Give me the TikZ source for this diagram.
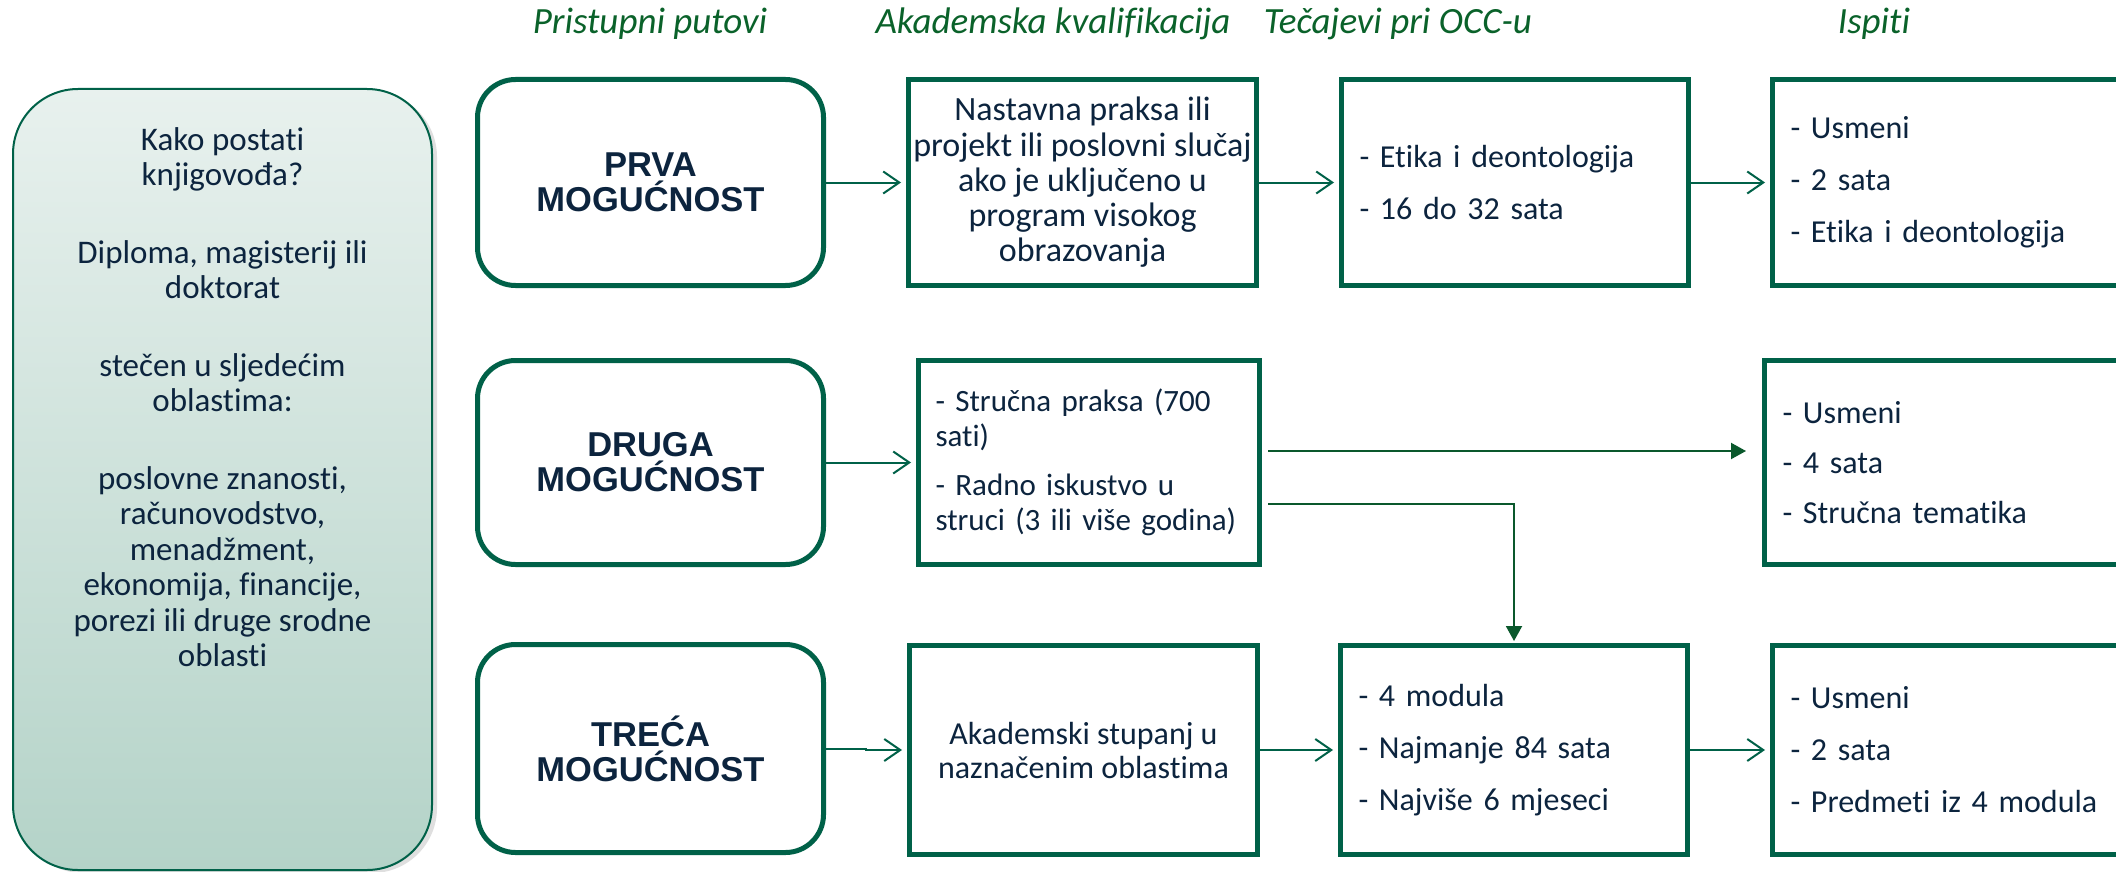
\documentclass[tikz,border=0pt]{standalone}
\usepackage{fontspec}
\setmainfont{Carlito}[Ligatures=NoCommon]
\newfontfamily\optfont{Liberation Sans}
\usetikzlibrary{arrows.meta,shadows}

\definecolor{boxgreen}{RGB}{0,97,72}
\definecolor{arrowgreen}{RGB}{10,88,44}
\definecolor{titlegreen}{RGB}{10,98,42}
\definecolor{navytext}{RGB}{12,36,62}
\definecolor{introtop}{RGB}{232,241,238}
\definecolor{introbottom}{RGB}{180,211,200}

\tikzset{
  optbox/.style={draw=boxgreen, line width=5pt, rounded corners=38pt,
    minimum width=346pt, minimum height=206pt, text=navytext, align=center,
    font=\optfont\bfseries\fontsize{34.5}{35}\selectfont},
  infobox/.style={draw=boxgreen, line width=5pt, minimum height=206pt,
    text=navytext, align=center, font=\fontsize{32}{35.5}\selectfont},
  listbox/.style={infobox, align=left, inner xsep=18pt,
    font=\fontsize{32}{52}\selectfont},
  coltitle/.style={text=titlegreen, anchor=base,
    font=\itshape\fontsize{37}{40}\selectfont},
  thinarrow/.style={draw=boxgreen, line width=2pt, shorten >=5pt,
    -{Straight Barb[length=16pt,width=22pt]}},
  fillarrow/.style={draw=arrowgreen, line width=2pt,
    -{Triangle[length=15pt,width=16pt]}},
}

\begin{document}
\begin{tikzpicture}[x=1pt,y=-1pt]
	\fill[white] (0,0) rectangle (2116,872);
	\useasboundingbox (0,0) rectangle (2116,872);
	\clip (0,0) rectangle (2116,872);

            % column titles
            \node[coltitle] (t1) at (650,34) {Pristupni putovi};
            \node[coltitle] (t2) at (1053,34) {Akademska kvalifikacija};
            \node[coltitle] (t3) at (1398,34) {Tečajevi pri OCC-u};
            \node[coltitle] (t4) at (1874,34) {Ispiti};

            % left box
            \node[draw=boxgreen, line width=2pt, rounded corners=65pt,
              top color=introtop, bottom color=introbottom,
              drop shadow={shadow xshift=5pt, shadow yshift=-3pt, opacity=0.25},
              minimum width=419pt, minimum height=781pt] (intro) at (222.5,479.5) {};
            \node[text=navytext, align=center, inner sep=0pt, anchor=north,
              font=\fontsize{33}{35.5}\selectfont] (introtxt) at (222.5,127)
              {Kako postati\\knjigovođa?\\[42pt]Diploma, magisterij ili\\doktorat\\[42pt]stečen u sljedećim\\oblastima:\\[42pt]poslovne znanosti,\\računovodstvo,\\menadžment,\\ekonomija, financije,\\porezi ili druge srodne\\oblasti};

            % first row
            \node[optbox] (prva) at (650.5,182.5) {PRVA\\MOGUĆNOST};
            \node[infobox, minimum width=348pt, font=\fontsize{34}{35.3}\selectfont] (akad1) at (1082.5,182.5)
              {Nastavna praksa ili\\projekt ili poslovni slučaj\\ako je uključeno u\\program visokog\\obrazovanja};
            \node[listbox, text width=311pt] (tec1) at (1515,182.5)
              {- Etika i deontologija\\- 16 do 32 sata};
            \node[listbox, text width=334pt] (isp1) at (1957.5,182.5)
              {- Usmeni\\- 2 sata\\- Etika i deontologija};

            % second row
            \node[optbox, minimum height=204pt] (druga) at (650.5,462.5) {DRUGA\\MOGUĆNOST};
            \node[infobox, align=left, inner xsep=17pt, text width=307pt,
              minimum height=204pt, font=\fontsize{31}{35}\selectfont] (akad2) at (1089,462.5)
              {- Stručna praksa (700\\sati)\\[14pt]- Radno iskustvo u\\struci (3 ili više godina)};
            \node[listbox, text width=334pt, minimum height=204pt,
              font=\fontsize{32}{50}\selectfont] (isp2) at (1949.5,462.5)
              {- Usmeni\\- 4 sata\\- Stručna tematika};

            % third row
            \node[optbox, minimum height=208pt] (treca) at (650.5,748.5) {TREĆA\\MOGUĆNOST};
            \node[infobox, minimum width=348pt, minimum height=209pt,
              font=\fontsize{32}{34}\selectfont] (akad3) at (1083.5,750)
              {Akademski stupanj u\\naznačenim oblastima};
            \node[listbox, text width=311pt, minimum height=209pt] (tec3) at (1514,750)
              {- 4 modula\\- Najmanje 84 sata\\- Najviše 6 mjeseci};
            \node[listbox, text width=334pt, minimum height=209pt] (isp3) at (1957.5,750)
              {- Usmeni\\- 2 sata\\- Predmeti iz 4 modula};

            % connectors
            \draw[thinarrow] (prva) -- (akad1);
            \draw[thinarrow] (akad1) -- (tec1);
            \draw[thinarrow] (tec1) -- (isp1);

            \draw[thinarrow] (druga) -- (akad2);
            \draw[fillarrow] ([xshift=6pt,yshift=11.5pt]akad2.east) -- ([xshift=-16pt,yshift=11.5pt]isp2.west);
            \draw[fillarrow] ([xshift=6pt,yshift=-41.5pt]akad2.east) -| ([yshift=2pt]tec3.north);

            \draw[thinarrow] (treca.east) -- ++(40,0) |- (akad3.west);
            \draw[thinarrow] (akad3) -- (tec3);
            \draw[thinarrow] (tec3) -- (isp3);
\end{tikzpicture}
\end{document}
